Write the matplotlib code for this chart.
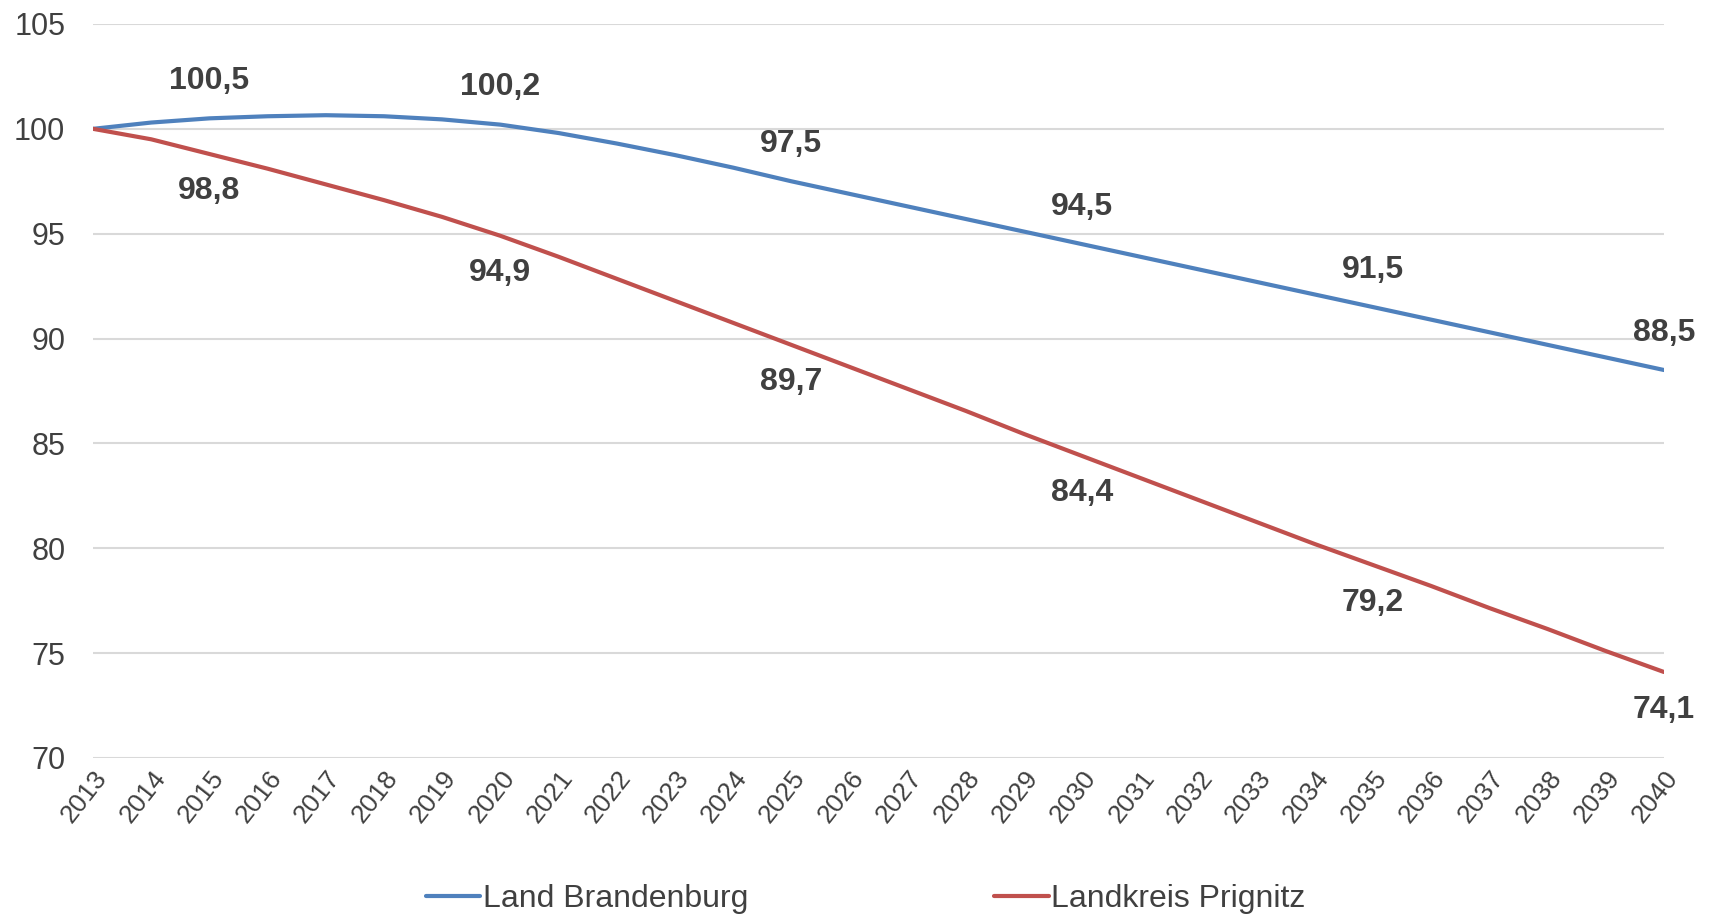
import matplotlib.pyplot as plt

plt.rcParams['font.family'] = ['Liberation Sans', 'DejaVu Sans']

years = list(range(2013, 2041))
brandenburg = [100.0, 100.3, 100.5, 100.6, 100.65, 100.6, 100.45, 100.2,
               99.8, 99.3, 98.75, 98.15, 97.5, 96.9, 96.3, 95.7, 95.1, 94.5,
               93.9, 93.3, 92.7, 92.1, 91.5, 90.9, 90.3, 89.7, 89.1, 88.5]
prignitz = [100.0, 99.5, 98.8, 98.1, 97.35, 96.6, 95.8, 94.9,
            93.9, 92.85, 91.8, 90.75, 89.7, 88.65, 87.6, 86.55, 85.45, 84.4,
            83.35, 82.3, 81.25, 80.2, 79.2, 78.2, 77.15, 76.15, 75.1, 74.1]
label_years = [2015, 2020, 2025, 2030, 2035, 2040]
names = ["Land Brandenburg", "Landkreis Prignitz"]

blue = "#4f81bd"
red = "#c0504d"
text_col = "#404040"

fig = plt.figure(figsize=(17.11, 9.15), dpi=100)
ax = fig.add_axes([0.0544, 0.1716, 0.9181, 0.8022])

ax.plot(years, brandenburg, color=blue, lw=3, label=names[0], solid_capstyle='round')
ax.plot(years, prignitz, color=red, lw=3, label=names[1], solid_capstyle='round')

for y in label_years:
    i = years.index(y)
    ax.annotate(f"{brandenburg[i]:.1f}".replace('.', ','), (y, brandenburg[i]),
                xytext=(0, 27), textcoords='offset points', ha='center', va='center',
                fontsize=23, fontweight='bold', color=text_col)
    ax.annotate(f"{prignitz[i]:.1f}".replace('.', ','), (y, prignitz[i]),
                xytext=(0, -27), textcoords='offset points', ha='center', va='center',
                fontsize=23, fontweight='bold', color=text_col)

ax.set_xlim(2013, 2040)
ax.set_ylim(70, 105)
ax.set_yticks(range(70, 106, 5))
ax.set_xticks(years)
ax.set_xticklabels([str(y) for y in years], rotation=52, ha='right', va='top',
                   rotation_mode='anchor', fontsize=19, color=text_col)
ax.tick_params(axis='y', labelsize=22, labelcolor=text_col, length=0, pad=20)
ax.tick_params(axis='x', length=0, pad=6)
ax.grid(axis='y', color='#d9d9d9', lw=1.5)
ax.set_axisbelow(True)
for s in ax.spines.values():
    s.set_visible(False)

fig.legend(loc='lower center', bbox_to_anchor=(0.506, -0.03), ncol=2, frameon=False,
           fontsize=23, handlelength=1.7, handletextpad=0.08, columnspacing=7.7,
           labelcolor=text_col)

fig.savefig("out.png", dpi=100)
